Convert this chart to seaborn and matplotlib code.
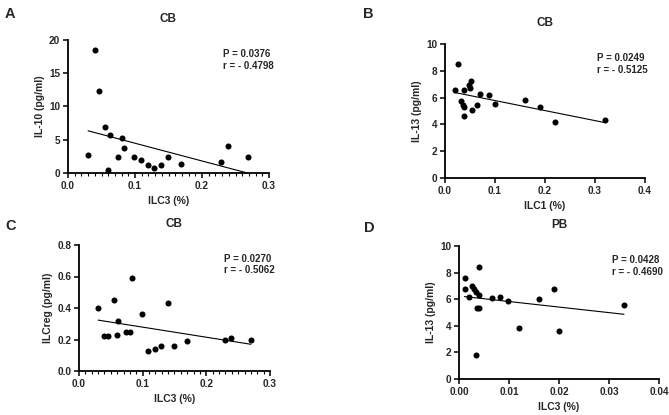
import numpy as np
import pandas as pd
import seaborn as sns
import matplotlib
matplotlib.use("Agg")
import matplotlib.pyplot as plt
from matplotlib.ticker import MultipleLocator, FormatStrFormatter

# Panel A: CB, ILC3 (%) vs IL-10 (pg/ml)
a_x = [0.030, 0.041, 0.046, 0.055, 0.062, 0.059, 0.074, 0.080, 0.083, 0.099,
       0.109, 0.119, 0.129, 0.139, 0.149, 0.169, 0.229, 0.239, 0.269]
a_y = [2.65, 18.5, 12.4, 6.95, 5.7, 0.4, 2.45, 5.3, 3.75, 2.35,
       1.9, 1.25, 0.8, 1.2, 2.45, 1.4, 1.6, 4.1, 2.45]

# Panel B: CB, ILC1 (%) vs IL-13 (pg/ml)
b_x = [0.020, 0.025, 0.037, 0.032, 0.035, 0.038, 0.037, 0.047, 0.049, 0.051,
       0.053, 0.063, 0.069, 0.087, 0.099, 0.159, 0.189, 0.219, 0.319]
b_y = [6.56, 8.5, 6.56, 5.71, 5.44, 5.31, 4.64, 6.93, 6.73, 7.26,
       5.09, 5.46, 6.28, 6.18, 5.54, 5.81, 5.29, 4.19, 4.36]

# Panel C: CB, ILC3 (%) vs ILCreg (pg/ml)
c_x = [0.030, 0.040, 0.046, 0.055, 0.059, 0.062, 0.074, 0.080, 0.083, 0.0995,
       0.109, 0.119, 0.129, 0.140, 0.149, 0.169, 0.229, 0.239, 0.270]
c_y = [0.40, 0.22, 0.22, 0.45, 0.23, 0.32, 0.25, 0.25, 0.59, 0.36,
       0.13, 0.14, 0.16, 0.43, 0.16, 0.19, 0.20, 0.21, 0.20]

# Panel D: PB, ILC3 (%) vs IL-13 (pg/ml)
d_x = [0.0011, 0.0011, 0.0020, 0.0025, 0.0029, 0.0034, 0.0040, 0.0040, 0.0035, 0.0039,
       0.0034, 0.0065, 0.0082, 0.0098, 0.0120, 0.0160, 0.0190, 0.0200, 0.0330]
d_y = [7.57, 6.79, 6.17, 7.0, 6.75, 6.56, 6.3, 8.44, 5.33, 5.33,
       1.83, 6.07, 6.17, 5.9, 3.84, 6.03, 6.78, 3.64, 5.60]

panel_letters = ["A", "B", "C", "D"]
titles = ["CB", "CB", "CB", "PB"]
xlabels = ["ILC3 (%)", "ILC1 (%)", "ILC3 (%)", "ILC3 (%)"]
ylabels = ["IL-10 (pg/ml)", "IL-13 (pg/ml)", "ILCreg (pg/ml)", "IL-13 (pg/ml)"]
stats = ["P = 0.0376\nr = - 0.4798", "P = 0.0249\nr = - 0.5125",
         "P = 0.0270\nr = - 0.5062", "P = 0.0428\nr = - 0.4690"]

sns.set_theme(style="ticks")
plt.rcParams['font.family'] = ['Liberation Sans', 'DejaVu Sans']
plt.rcParams['font.weight'] = 'bold'

W, H = 669, 415
fig = plt.figure(figsize=(W / 100, H / 100), dpi=100)

# axes boxes in pixels: left, right, top, bottom
boxes = [(68, 269, 40, 173), (445, 645, 44, 178), (79, 270, 245, 371), (459, 659, 246, 379)]
data = [(a_x, a_y), (b_x, b_y), (c_x, c_y), (d_x, d_y)]
xlims = [(0, 0.3), (0, 0.4), (0, 0.3), (0, 0.04)]
ylims = [(0, 20), (0, 10), (0, 0.8), (0, 10)]
xmaj = [0.1, 0.1, 0.1, 0.01]
xmin = [0.01, None, 0.01, None]
ymaj = [5, 2, 0.2, 2]
xfmt = ["%.1f", "%.1f", "%.1f", "%.2f"]
yfmt = ["%d", "%d", "%.1f", "%d"]
letter_pos = [(5, 14), (363, 14), (5, 226), (364, 228)]
stat_pos = [(0.77, 0.93), (0.76, 0.93), (0.76, 0.93), (0.765, 0.93)]

for i in range(4):
    l, r, t, b = boxes[i]
    ax = fig.add_axes([l / W, 1 - b / H, (r - l) / W, (b - t) / H])
    df = pd.DataFrame({"x": data[i][0], "y": data[i][1]})
    sns.regplot(data=df, x="x", y="y", ax=ax, ci=None, truncate=True,
                scatter_kws=dict(s=19, color="black", alpha=1, linewidths=0, clip_on=False, zorder=3),
                line_kws=dict(color="black", lw=0.8))
    ax.set_xlim(*xlims[i])
    ax.set_ylim(*ylims[i])
    ax.xaxis.set_major_locator(MultipleLocator(xmaj[i]))
    if xmin[i]:
        ax.xaxis.set_minor_locator(MultipleLocator(xmin[i]))
    ax.yaxis.set_major_locator(MultipleLocator(ymaj[i]))
    ax.xaxis.set_major_formatter(FormatStrFormatter(xfmt[i]))
    ax.yaxis.set_major_formatter(FormatStrFormatter(yfmt[i]))
    sns.despine(ax=ax)
    for s in ["left", "bottom"]:
        ax.spines[s].set_linewidth(1.3)
        ax.spines[s].set_color("black")
    ax.tick_params(which="major", length=3.5, width=1.1, labelsize=7.2, color="black", pad=2)
    ax.tick_params(which="minor", length=2, width=0.8, color="black")
    for lab in ax.get_xticklabels() + ax.get_yticklabels():
        lab.set_fontweight("bold")
    ax.set_xlabel(xlabels[i], fontsize=7.5, fontweight="bold", labelpad=4)
    ax.set_ylabel(ylabels[i], fontsize=7.5, fontweight="bold", labelpad=3)
    ax.set_title(titles[i], fontsize=8.5, fontweight="bold", pad=13)
    ax.text(stat_pos[i][0], stat_pos[i][1], stats[i], transform=ax.transAxes,
            fontsize=7, fontweight="bold", va="top", ha="left", linespacing=1.15)
    fig.text(letter_pos[i][0] / W, 1 - letter_pos[i][1] / H, panel_letters[i],
             fontsize=10.5, fontweight="bold", va="center", ha="left")

fig.savefig("out.png", dpi=100)
